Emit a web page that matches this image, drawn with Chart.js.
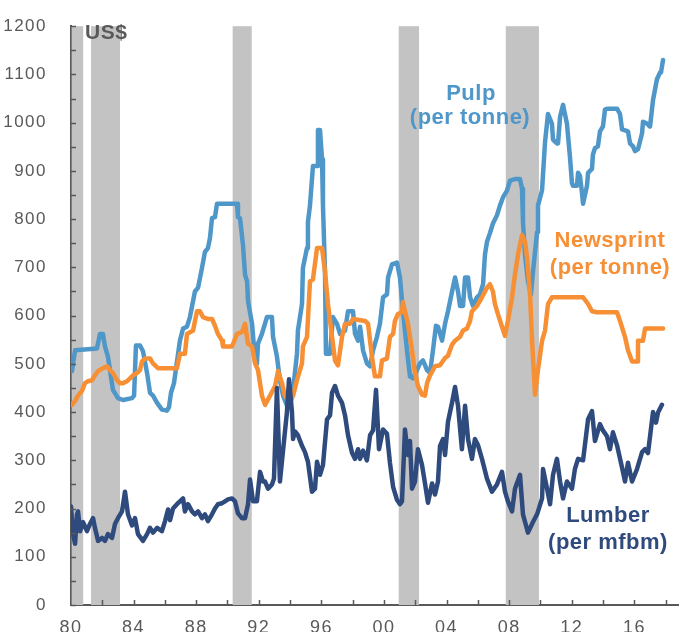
<!DOCTYPE html>
<html>
<head>
<meta charset="utf-8">
<script src="https://cdn.jsdelivr.net/npm/chart.js@4"></script>
<style>
  html, body { margin: 0; padding: 0; background: #fff; }
  #wrap { width: 679px; height: 632px; }
</style>
</head>
<body>
<div id="wrap"><canvas id="chart"></canvas></div>
<script>
// readings from the picture: decimal year, US$
const pulpYears = [1980.06,1980.26,1981.66,1981.85,1982.04,1982.17,1982.36,1982.49,1982.68,1983.00,1983.32,1983.90,1984.03,1984.15,1984.41,1984.60,1984.86,1985.05,1985.24,1985.50,1985.81,1986.13,1986.26,1986.39,1986.58,1986.71,1986.84,1986.96,1987.16,1987.41,1987.60,1987.92,1988.12,1988.37,1988.56,1988.75,1988.88,1989.01,1989.20,1989.33,1990.61,1990.67,1990.80,1990.99,1991.12,1991.25,1991.31,1991.57,1991.76,1991.88,1991.95,1992.20,1992.52,1992.84,1992.91,1993.16,1993.35,1993.55,1993.80,1993.99,1994.19,1994.44,1994.50,1994.76,1994.82,1995.08,1995.14,1995.27,1995.46,1995.72,1995.78,1995.91,1996.04,1996.10,1996.23,1996.29,1996.55,1996.74,1997.00,1997.19,1997.51,1997.70,1998.02,1998.15,1998.34,1998.47,1998.66,1998.91,1999.11,1999.30,1999.55,1999.74,1999.94,2000.19,2000.26,2000.51,2000.83,2001.02,2001.21,2001.47,2001.66,2001.85,2002.11,2002.30,2002.49,2002.75,2002.94,2003.13,2003.32,2003.45,2003.71,2003.90,2004.09,2004.35,2004.54,2004.73,2004.86,2005.05,2005.18,2005.37,2005.50,2005.69,2005.94,2006.13,2006.33,2006.45,2006.58,2006.77,2006.96,2007.22,2007.41,2007.60,2007.86,2008.05,2008.37,2008.69,2008.82,2008.88,2009.01,2009.20,2009.39,2009.52,2009.78,2009.84,2010.10,2010.29,2010.48,2010.73,2010.80,2011.05,2011.12,2011.25,2011.44,2011.69,2011.88,2012.01,2012.08,2012.33,2012.40,2012.52,2012.65,2012.72,2012.97,2013.04,2013.29,2013.35,2013.48,2013.67,2013.80,2013.99,2014.12,2014.25,2014.89,2015.08,2015.21,2015.59,2015.72,2015.91,2016.04,2016.23,2016.49,2016.55,2016.81,2017.00,2017.19,2017.44,2017.64,2017.70,2017.83];
const pulpValues = [485,528,532,562,562,536,515,487,446,429,425,429,434,538,538,526,481,440,434,419,405,403,410,440,460,490,520,548,573,577,597,650,658,699,732,740,761,802,804,832,832,804,802,746,685,671,630,583,507,500,542,562,597,597,556,515,466,434,413,415,446,521,569,624,699,740,794,828,910,910,985,985,924,828,691,521,521,597,583,562,569,609,609,562,548,577,528,501,495,528,556,583,638,644,679,706,710,679,609,528,474,470,487,501,507,487,481,528,579,577,548,583,609,650,679,650,620,620,679,679,638,620,638,644,665,726,753,771,791,808,828,845,859,880,883,883,863,794,726,671,644,691,773,828,860,960,1018,998,965,957,957,1012,1037,998,930,875,869,869,896,890,855,832,869,896,904,934,947,951,982,992,1027,1029,1029,1018,986,982,957,951,941,945,978,1002,998,992,1047,1090,1104,1104,1130];

const newsYears = [1980.06,1980.26,1980.45,1980.70,1980.89,1981.09,1981.34,1981.53,1981.73,1982.04,1982.30,1982.49,1982.68,1982.94,1983.13,1983.32,1983.58,1983.77,1983.96,1984.22,1984.41,1984.54,1984.73,1985.05,1985.24,1985.56,1986.77,1986.96,1987.28,1987.41,1987.80,1988.05,1988.24,1988.43,1988.75,1989.01,1989.20,1989.39,1989.65,1989.71,1990.29,1990.61,1990.93,1991.12,1991.31,1991.57,1991.76,1991.95,1992.20,1992.40,1992.72,1993.04,1993.23,1993.48,1993.67,1993.99,1994.19,1994.44,1994.76,1994.82,1995.08,1995.27,1995.46,1995.72,1996.04,1996.23,1996.42,1996.68,1996.87,1997.06,1997.32,1997.51,1997.83,1998.02,1998.79,1998.98,1999.23,1999.42,1999.74,1999.87,2000.19,2000.38,2000.58,2000.70,2000.89,2001.15,2001.21,2001.34,2001.53,2001.79,2001.98,2002.17,2002.43,2002.62,2002.75,2002.94,2003.26,2003.58,2003.90,2004.09,2004.35,2004.54,2004.86,2005.05,2005.30,2005.50,2005.62,2005.94,2006.26,2006.58,2006.77,2006.96,2007.09,2007.28,2007.54,2007.73,2007.92,2008.18,2008.37,2008.56,2008.82,2009.01,2009.14,2009.33,2009.46,2009.65,2009.84,2010.10,2010.29,2010.48,2010.73,2012.72,2013.04,2013.29,2013.61,2014.89,2015.08,2015.40,2015.59,2015.85,2016.17,2016.23,2016.55,2016.68,2017.83];
const newsValues = [415,423,434,444,460,464,466,476,485,491,495,487,481,466,460,460,464,470,476,481,487,505,511,511,501,491,491,521,521,562,569,609,609,597,593,593,579,562,548,536,536,562,566,583,542,536,501,487,434,415,434,454,485,460,434,419,434,466,501,536,556,671,675,740,740,691,624,556,507,497,556,583,583,593,589,583,515,474,474,507,511,556,562,589,603,607,628,609,583,528,481,454,436,434,460,476,495,497,512,517,540,548,556,569,573,589,609,620,638,658,665,650,624,603,577,558,589,638,685,726,767,753,720,644,548,436,487,548,569,624,638,638,624,609,607,607,589,556,528,505,505,548,548,573,573];

const lumberYears = [1980.00,1980.13,1980.26,1980.38,1980.45,1980.58,1980.77,1981.02,1981.21,1981.41,1981.53,1981.73,1981.98,1982.17,1982.36,1982.62,1982.81,1983.00,1983.26,1983.45,1983.64,1983.90,1984.09,1984.28,1984.60,1984.86,1985.05,1985.24,1985.50,1985.81,1986.01,1986.20,1986.33,1986.52,1986.77,1986.96,1987.16,1987.28,1987.48,1987.73,1987.92,1988.12,1988.37,1988.56,1988.75,1989.01,1989.20,1989.39,1989.65,1989.84,1990.03,1990.29,1990.48,1990.67,1990.93,1991.12,1991.31,1991.44,1991.63,1991.88,1992.08,1992.27,1992.40,1992.59,1992.84,1992.97,1993.16,1993.35,1993.61,1993.80,1993.93,1994.12,1994.19,1994.31,1994.50,1994.76,1994.95,1995.14,1995.40,1995.59,1995.72,1995.91,1996.10,1996.36,1996.55,1996.68,1996.87,1997.06,1997.32,1997.51,1997.70,1997.96,1998.15,1998.34,1998.47,1998.66,1998.91,1999.11,1999.30,1999.49,1999.68,1999.94,2000.19,2000.38,2000.58,2000.83,2001.02,2001.15,2001.34,2001.53,2001.66,2001.79,2001.98,2002.17,2002.43,2002.62,2002.81,2003.07,2003.26,2003.45,2003.58,2003.77,2003.90,2004.09,2004.35,2004.54,2004.73,2004.98,2005.18,2005.37,2005.62,2005.81,2006.01,2006.26,2006.58,2006.90,2007.22,2007.54,2007.73,2007.92,2008.18,2008.37,2008.69,2008.88,2009.20,2009.52,2009.78,2010.10,2010.16,2010.42,2010.61,2010.80,2011.05,2011.25,2011.44,2011.69,2012.01,2012.20,2012.40,2012.72,2013.04,2013.29,2013.48,2013.80,2013.99,2014.25,2014.44,2014.63,2014.89,2015.21,2015.40,2015.59,2015.85,2016.17,2016.49,2016.68,2016.87,2017.19,2017.38,2017.51,2017.76];
const lumberValues = [204,147,127,188,194,153,172,153,168,180,160,133,139,133,147,139,168,180,194,235,188,165,180,147,133,147,160,150,160,153,174,198,176,200,209,215,221,194,209,194,188,194,180,188,174,188,200,209,211,215,219,221,215,190,180,180,209,260,215,215,276,256,256,241,250,262,450,256,340,400,468,400,344,360,352,330,317,297,235,241,297,270,290,385,393,440,454,434,419,393,352,315,303,323,303,320,300,352,362,446,323,364,355,295,245,218,209,215,364,311,340,241,256,323,290,252,212,252,229,256,330,344,311,380,420,452,413,323,413,344,303,344,331,303,262,235,250,276,235,215,194,241,270,188,150,172,188,221,282,241,209,270,303,256,221,256,241,282,303,300,385,402,340,375,362,350,323,358,331,285,256,295,256,282,317,323,315,400,378,399,415];

// shaded periods
const recessionStart = [1980.04, 1981.28, 1990.33, 2000.94, 2007.78];
const recessionEnd   = [1980.78, 1983.13, 1991.55, 2002.24, 2009.90];

const yTickLabels = [0,100,200,300,400,500,600,700,800,900,1000,1100,1200];
const xTickLabels = [1980,1984,1988,1992,1996,2000,2004,2008,2012,2016];

const axisGrey = '#595959';
const pulpColor = '#4F97C8';
const newsColor = '#F78F35';
const lumberColor = '#2F4B7D';

function toPoints(xs, ys) {
    return xs.map((x, i) => ({ x: x, y: ys[i] }));
}

const recessionBands = {
    id: 'recessionBands',
    beforeDatasetsDraw(chart) {
        const { ctx, scales: { x, y } } = chart;
        ctx.save();
        ctx.fillStyle = '#C3C3C3';
        const top = y.getPixelForValue(1200);
        const bottom = y.getPixelForValue(0);
        recessionStart.forEach((s, i) => {
            const l = x.getPixelForValue(s);
            const r = x.getPixelForValue(recessionEnd[i]);
            ctx.fillRect(l, top, r - l, bottom - top);
        });
        ctx.restore();
    }
};

// small inward tick marks + the text labels
const decorations = {
    id: 'decorations',
    beforeDraw(chart) {
        chart.ctx.letterSpacing = '1.5px';
    },
    afterDraw(chart) {
        const { ctx, scales: { x, y } } = chart;
        const left = x.left;
        const bottom = y.bottom;
        ctx.save();
        ctx.strokeStyle = axisGrey;
        ctx.lineWidth = 1.5;
        ctx.beginPath();
        for (let v = 0; v <= 1200; v += 50) {
            const py = Math.round(y.getPixelForValue(v)) + 0.5;
            ctx.moveTo(left, py);
            ctx.lineTo(left + 5, py);
        }
        for (let yr = 1982; yr <= 2018; yr += 2) {
            const px = Math.round(x.getPixelForValue(yr)) + 0.5;
            ctx.moveTo(px, bottom);
            ctx.lineTo(px, bottom - 5);
        }
        ctx.stroke();

        ctx.letterSpacing = '0.5px';
        ctx.textAlign = 'left';
        ctx.textBaseline = 'middle';
        ctx.fillStyle = axisGrey;
        ctx.font = 'bold 21px "Liberation Sans", Arial, sans-serif';
        ctx.fillText('US$', 85, 33);

        ctx.textAlign = 'center';
        ctx.font = 'bold 22px "Liberation Sans", Arial, sans-serif';
        ctx.fillStyle = pulpColor;
        ctx.fillText('Pulp', 471, 94);
        ctx.fillText('(per tonne)', 470, 118);
        ctx.fillStyle = newsColor;
        ctx.fillText('Newsprint', 610, 241);
        ctx.fillText('(per tonne)', 610, 268);
        ctx.fillStyle = lumberColor;
        ctx.fillText('Lumber', 608, 516);
        ctx.fillText('(per mfbm)', 608, 543);
        ctx.restore();
        ctx.letterSpacing = '0px';
    }
};

const lineStyle = {
    borderWidth: 4.5,
    pointRadius: 0,
    tension: 0,
    borderJoinStyle: 'round',
    borderCapStyle: 'round',
    fill: false
};

new Chart(document.getElementById('chart'), {
    type: 'line',
    data: {
        datasets: [
            Object.assign({ label: 'Lumber', data: toPoints(lumberYears, lumberValues), borderColor: lumberColor }, lineStyle),
            Object.assign({ label: 'Newsprint', data: toPoints(newsYears, newsValues), borderColor: newsColor }, lineStyle),
            Object.assign({ label: 'Pulp', data: toPoints(pulpYears, pulpValues), borderColor: pulpColor }, lineStyle)
        ]
    },
    options: {
        responsive: true,
        maintainAspectRatio: false,
        animation: false,
        layout: { padding: { top: 18, right: 0, left: 0, bottom: 0 } },
        plugins: {
            legend: { display: false },
            tooltip: { enabled: false }
        },
        scales: {
            x: {
                type: 'linear',
                min: 1980,
                max: 2018.85,
                afterFit(scale) { scale.height = 27; },
                afterBuildTicks(scale) { scale.ticks = xTickLabels.map(v => ({ value: v })); },
                border: { color: axisGrey, width: 2 },
                grid: { display: false },
                ticks: {
                    autoSkip: false,
                    maxRotation: 0,
                    padding: 4,
                    color: axisGrey,
                    font: { family: '"Liberation Sans", Arial, sans-serif', size: 18 },
                    callback: (v) => String(v % 100).padStart(2, '0')
                }
            },
            y: {
                min: 0,
                max: 1200,
                afterFit(scale) { scale.width = 71; },
                afterBuildTicks(scale) { scale.ticks = yTickLabels.map(v => ({ value: v })); },
                border: { color: axisGrey, width: 2 },
                grid: { display: false },
                ticks: {
                    padding: 16,
                    color: axisGrey,
                    font: { family: '"Liberation Sans", Arial, sans-serif', size: 17 },
                    callback: (v) => String(v)
                }
            }
        }
    },
    plugins: [recessionBands, decorations]
});
</script>
</body>
</html>
